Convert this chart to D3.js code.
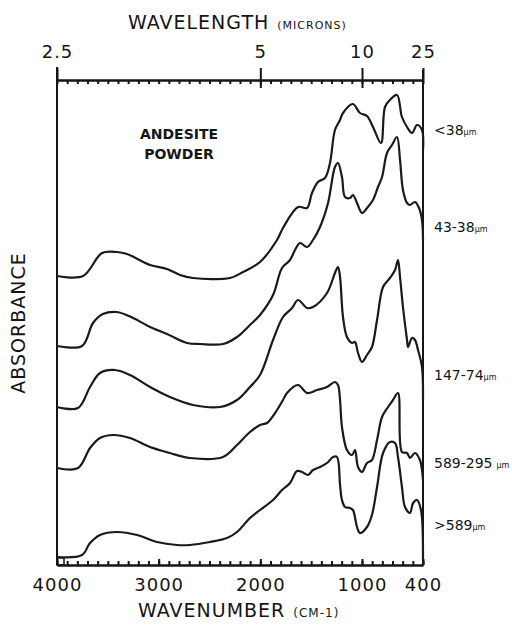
<!DOCTYPE html>
<html>
<head>
<meta charset="utf-8">
<script src="https://cdn.jsdelivr.net/npm/d3@7"></script>
<style>
  body { margin: 0; background: #fff; }
  svg { display: block; }
  text { fill: #151515; font-family: "DejaVu Sans", sans-serif; }
  .axis path, .axis line { stroke: #151515; stroke-width: 2; }
  .axis text { font-size: 18px; letter-spacing: 1px; }
</style>
</head>
<body>
<svg width="512" height="630"></svg>
<script>
const width = 512;
const height = 630;

// wavenumbers (cm-1) and absorbance (stacked, arbitrary units)
const wn1 = [4000, 3744, 3557, 3410, 3311, 3085, 2918, 2790, 2662, 2298, 2170, 2003, 1836, 1777, 1629, 1541, 1492, 1433, 1364, 1315, 1266, 1216, 1187, 1089, 1020, 951, 892, 813, 774, 725, 656, 607, 557, 508, 459, 410, 400];
const abs1 = [28.9, 28.9, 31.2, 31.3, 31.1, 30.0, 29.6, 29.0, 28.7, 28.7, 29.3, 30.3, 32.5, 33.7, 35.8, 35.7, 37.2, 38.3, 38.7, 40.2, 43.5, 44.5, 45.2, 46.1, 45.2, 44.9, 43.8, 42.2, 45.8, 46.5, 47.0, 44.8, 43.8, 43.2, 44.0, 43.5, 41.5];

const wn2 = [4000, 3754, 3646, 3548, 3410, 3252, 3085, 2918, 2721, 2593, 2367, 2229, 2102, 2003, 1875, 1787, 1708, 1659, 1610, 1541, 1482, 1413, 1334, 1266, 1236, 1197, 1167, 1118, 1089, 1049, 1000, 951, 892, 843, 803, 754, 705, 656, 626, 597, 557, 528, 479, 439, 410, 400];
const abs2 = [21.9, 21.9, 24.2, 25.1, 25.3, 24.7, 23.8, 23.1, 22.2, 22.1, 22.1, 22.8, 24.0, 25.0, 27.0, 29.7, 30.5, 31.5, 32.2, 31.8, 32.5, 33.8, 36.2, 39.8, 40.2, 38.8, 36.8, 36.7, 37.0, 36.2, 35.2, 35.7, 36.5, 37.8, 38.8, 41.2, 42.0, 42.8, 40.5, 37.5, 36.2, 36.0, 36.3, 35.7, 34.5, 32.5];

const wn3 = [4000, 3793, 3675, 3577, 3430, 3282, 3085, 2889, 2662, 2397, 2229, 2102, 2003, 1875, 1777, 1688, 1629, 1541, 1482, 1344, 1266, 1236, 1216, 1187, 1148, 1098, 1069, 1039, 1000, 951, 902, 852, 793, 725, 675, 646, 626, 597, 557, 547, 508, 479, 449, 410, 400];
const abs3 = [15.8, 15.7, 17.8, 19.2, 19.5, 19.0, 17.8, 16.8, 16.0, 15.8, 16.5, 17.8, 19.0, 22.5, 24.8, 25.7, 26.5, 25.7, 25.8, 27.2, 29.2, 29.8, 28.8, 24.8, 22.8, 22.2, 22.3, 21.2, 20.3, 21.0, 21.8, 24.5, 27.8, 28.7, 29.5, 30.5, 28.8, 25.8, 22.5, 21.8, 22.7, 22.5, 21.5, 19.8, 16.5];

const wn4 = [4000, 3793, 3675, 3577, 3449, 3282, 3085, 2889, 2692, 2367, 2229, 2102, 2003, 1934, 1836, 1777, 1738, 1629, 1541, 1443, 1344, 1266, 1236, 1216, 1197, 1148, 1098, 1069, 1039, 1000, 951, 902, 852, 803, 744, 695, 646, 607, 557, 528, 479, 430, 410, 400];
const abs4 = [9.7, 9.7, 11.7, 12.7, 13.0, 12.7, 11.8, 11.2, 10.7, 10.8, 12.0, 13.3, 14.0, 14.2, 15.5, 16.5, 17.2, 18.0, 17.2, 17.5, 17.8, 18.3, 18.0, 16.5, 13.8, 11.5, 11.0, 11.5, 9.8, 9.3, 10.2, 10.5, 12.5, 14.8, 15.8, 16.5, 17.2, 11.3, 11.2, 10.7, 11.2, 10.5, 9.5, 8.5];

const wn5 = [4000, 3754, 3675, 3577, 3410, 3213, 3016, 2820, 2692, 2495, 2328, 2229, 2102, 2003, 1875, 1787, 1708, 1639, 1590, 1531, 1482, 1413, 1344, 1285, 1246, 1216, 1197, 1167, 1118, 1089, 1049, 1020, 951, 902, 852, 793, 725, 675, 646, 607, 577, 528, 498, 459, 420, 400];
const abs5 = [0.8, 1.0, 2.2, 3.0, 3.3, 3.0, 2.3, 2.0, 2.0, 2.3, 2.7, 3.3, 4.7, 5.5, 6.5, 7.5, 8.2, 9.4, 9.3, 9.0, 9.5, 9.8, 10.2, 10.8, 10.8, 8.0, 6.5, 5.8, 5.7, 5.5, 3.8, 3.2, 3.8, 5.0, 7.8, 11.2, 12.3, 12.2, 10.8, 7.8, 5.8, 5.2, 6.2, 6.5, 5.5, 0.5];

const sizeLabels = ["<38", "43-38", "147-74", "589-295", ">589"];

const wnMajor = [4000, 3000, 2000, 1000, 400];
const lambdaMajor = [2.5, 5, 10, 25];
const wnMinor = d3.range(4000, 399, -100);

const series = [
  { wn: wn1, abs: abs1 },
  { wn: wn2, abs: abs2 },
  { wn: wn3, abs: abs3 },
  { wn: wn4, abs: abs4 },
  { wn: wn5, abs: abs5 }
];

const svg = d3.select("svg");
svg.append("rect").attr("width", width).attr("height", height).attr("fill", "#fff");

const x = d3.scaleLinear().domain([4000, 400]).range([57, 423]);
const y = d3.scaleLinear().domain([0, 48.5]).range([565, 80]);

// bottom axis: minor ticks point inward, labelled majors
svg.append("g")
  .attr("class", "axis")
  .attr("transform", `translate(0, ${y(0)})`)
  .call(d3.axisBottom(x).tickValues(wnMinor).tickSize(-4).tickSizeOuter(0).tickFormat(""));

svg.append("g")
  .attr("class", "axis")
  .attr("transform", `translate(0, ${y(0)})`)
  .call(d3.axisBottom(x).tickValues(wnMajor).tickSize(-6).tickSizeOuter(0).tickPadding(13).tickFormat(d3.format("d")));

// top axis in wavelength (microns)
svg.append("g")
  .attr("class", "axis")
  .attr("transform", `translate(0, ${y(48.5)})`)
  .call(d3.axisTop(x).tickValues(wnMinor).tickSize(-4).tickSizeOuter(0).tickFormat(""));

svg.append("g")
  .attr("class", "axis")
  .attr("transform", `translate(0, ${y(48.5)})`)
  .call(d3.axisTop(x).tickValues(lambdaMajor.map(l => 10000 / l)).tickSize(12).tickSizeOuter(0).tickPadding(10)
    .tickFormat(d => d3.format("~g")(10000 / d)));

svg.append("g")
  .attr("class", "axis")
  .attr("transform", `translate(0, ${y(48.5)})`)
  .call(d3.axisTop(x).tickValues(lambdaMajor.slice(1, 3).map(l => 10000 / l)).tickSize(-8).tickSizeOuter(0).tickFormat(""))
  .select(".domain").remove();

// left and right frame
svg.append("line")
  .attr("x1", x(4000)).attr("x2", x(4000))
  .attr("y1", y(48.5) - 13).attr("y2", y(0))
  .attr("stroke", "#151515").attr("stroke-width", 2);
svg.append("line")
  .attr("x1", x(400)).attr("x2", x(400))
  .attr("y1", y(48.5) - 10).attr("y2", y(0))
  .attr("stroke", "#151515").attr("stroke-width", 2);
svg.append("rect")
  .attr("x", x(4000)).attr("y", y(0) - 7).attr("width", 7).attr("height", 7)
  .attr("fill", "none").attr("stroke", "#151515").attr("stroke-width", 1.5);

const line = d3.line()
  .x(d => x(d[0]))
  .y(d => y(d[1]))
  .curve(d3.curveCatmullRom.alpha(0.5));

svg.selectAll(".spectrum")
  .data(series)
  .enter()
  .append("path")
  .attr("class", "spectrum")
  .attr("fill", "none")
  .attr("stroke", "#1a1a1a")
  .attr("stroke-width", 2.2)
  .attr("stroke-linejoin", "round")
  .attr("d", s => line(s.wn.map((w, i) => [w, s.abs[i]])));

// size fraction labels on the right
const labelY = [135, 232, 380, 468, 530];
sizeLabels.forEach((t, i) => {
  const lab = svg.append("text")
    .attr("x", 434)
    .attr("y", labelY[i])
    .attr("font-family", "'DejaVu Sans Condensed', sans-serif")
    .attr("font-size", 14);
  lab.append("tspan").text(t);
  lab.append("tspan").attr("font-size", 8).attr("dx", i === 3 ? 4 : 0).text("µm");
});

svg.append("text")
  .attr("x", 179).attr("y", 139)
  .attr("text-anchor", "middle")
  .attr("font-family", "'DejaVu Sans Condensed', sans-serif")
  .attr("font-weight", "bold")
  .attr("font-size", 14)
  .text("ANDESITE");
svg.append("text")
  .attr("x", 179).attr("y", 159)
  .attr("text-anchor", "middle")
  .attr("font-family", "'DejaVu Sans Condensed', sans-serif")
  .attr("font-weight", "bold")
  .attr("font-size", 14)
  .text("POWDER");

// axis titles
const topTitle = svg.append("text")
  .attr("x", 128).attr("y", 29)
  .attr("font-family", "'DejaVu Sans Condensed', sans-serif")
  .attr("font-size", 19)
  .attr("letter-spacing", 1);
topTitle.append("tspan").text("WAVELENGTH");
topTitle.append("tspan").attr("font-size", 11).attr("dx", 8).text("(MICRONS)");

const bottomTitle = svg.append("text")
  .attr("x", 138).attr("y", 617)
  .attr("font-family", "'DejaVu Sans Condensed', sans-serif")
  .attr("font-size", 19)
  .attr("letter-spacing", 1);
bottomTitle.append("tspan").text("WAVENUMBER");
bottomTitle.append("tspan").attr("font-size", 12).attr("dx", 8).text("(CM-1)");

svg.append("text")
  .attr("transform", "translate(25, 323) rotate(-90)")
  .attr("text-anchor", "middle")
  .attr("font-family", "'DejaVu Sans Condensed', sans-serif")
  .attr("font-size", 19)
  .attr("letter-spacing", 1)
  .text("ABSORBANCE");
</script>
</body>
</html>
